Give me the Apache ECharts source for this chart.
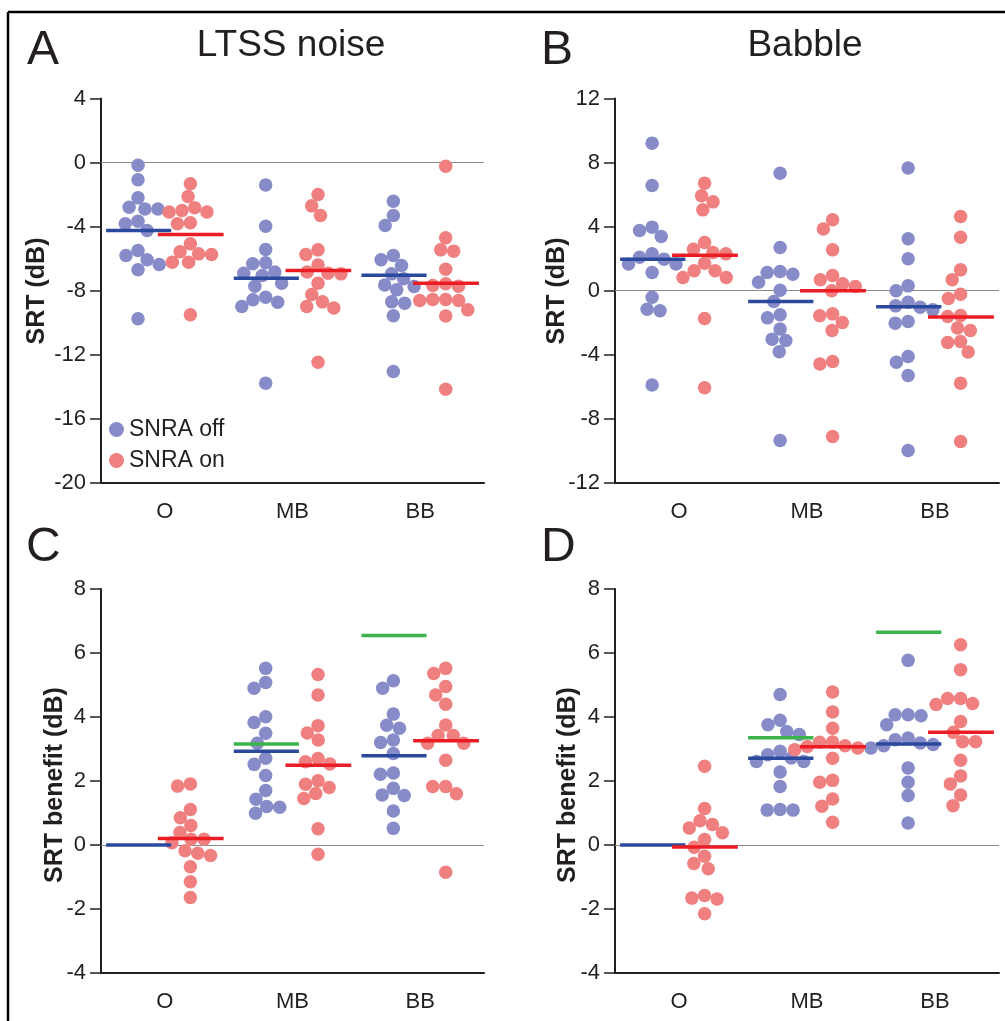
<!DOCTYPE html>
<html><head><meta charset="utf-8">
<script src="https://cdn.jsdelivr.net/npm/echarts@6/dist/echarts.min.js"></script>
<style>html,body{margin:0;padding:0;background:#fff}#c{width:1005px;height:1021px}</style>
</head><body><div id="c"></div>
<script>
// ---------- DATA ----------
const categories = ['O', 'MB', 'BB'];
const ticksA = [-20, -16, -12, -8, -4, 0, 4];
const ticksB = [-12, -8, -4, 0, 4, 8, 12];
const ticksCD = [-4, -2, 0, 2, 4, 6, 8];

// Panel A: LTSS noise, SRT (dB)
const ltssOff = [
  [-0.17,-1.08,-2.21,-2.9,-2.8,-2.9,-3.67,-3.83,-4.25,-5.5,-5.81,-6.08,-6.38,-6.7,-9.77],
  [-1.40,-3.98,-5.44,-6.33,-6.27,-6.92,-7.06,-6.85,-7.54,-7.73,-8.42,-8.73,-8.58,-9.0,-13.79],
  [-2.42,-3.31,-3.94,-5.81,-6.44,-6.08,-6.96,-7.27,-7.75,-7.65,-7.96,-8.79,-8.71,-9.58,-13.06]
];
const ltssOn = [
  [-1.33,-2.13,-3.1,-3.1,-3.0,-2.83,-3.83,-3.77,-5.08,-5.75,-5.58,-5.71,-6.23,-6.23,-9.52],
  [-2.0,-2.71,-3.31,-5.46,-5.75,-6.4,-6.92,-6.85,-6.96,-7.54,-8.25,-8.71,-9.0,-9.1,-12.48],
  [-0.23,-4.71,-5.54,-5.46,-6.67,-7.69,-7.58,-7.73,-8.63,-8.56,-8.56,-8.63,-9.21,-9.6,-14.17]
];
const ltssMeanOff = [-4.25, -7.23, -7.04];
const ltssMeanOn = [-4.5, -6.75, -7.54];

// Panel B: Babble, SRT (dB)
const babbleOff = [
  [9.21,6.56,3.96,3.75,3.38,2.08,2.29,1.96,1.65,1.65,1.13,-0.42,-1.17,-1.27,-5.90],
  [7.33,2.69,1.13,1.19,1.02,0.52,0.02,-0.69,-1.52,-1.71,-2.40,-3.13,-3.04,-3.83,-9.38],
  [7.65,3.23,1.98,0.29,-0.02,-1.21,-0.96,-0.73,-1.04,-2.04,-1.94,-4.13,-4.48,-5.31,-10.0]
];
const babbleOn = [
  [6.71,5.92,5.54,5.04,3.0,2.58,2.29,2.38,1.71,1.23,0.81,0.81,1.23,-1.75,-6.08],
  [4.42,3.85,2.54,0.94,0.25,0.42,0.67,-0.02,-1.46,-1.58,-2.0,-2.5,-4.44,-4.60,-9.13],
  [4.63,3.33,1.29,0.67,-0.5,-0.23,-1.56,-1.63,-2.35,-2.5,-3.19,-3.25,-3.85,-5.79,-9.44]
];
const babbleMeanOff = [1.96, -0.69, -1.02];
const babbleMeanOn = [2.21, -0.02, -1.65];

// Panel C: LTSS noise, SRT benefit (dB)
const ltssBenOff = [
  [],
  [5.52,5.08,4.90,4.01,3.83,3.49,3.18,2.71,2.52,2.17,1.70,1.43,1.20,1.18,0.99],
  [5.13,4.90,4.09,3.65,3.74,3.20,3.28,2.86,2.21,2.25,1.56,1.77,1.55,1.06,0.52]
];
const ltssBenOn = [
  [1.91,1.84,1.11,0.85,0.61,0.39,0.18,0.07,0.18,-0.18,-0.26,-0.33,-0.68,-1.15,-1.64],
  [5.33,4.69,3.73,3.5,3.28,2.70,2.53,2.60,1.90,2.01,1.80,1.61,1.45,0.51,-0.29],
  [5.52,5.36,4.95,4.69,4.40,3.75,3.42,3.42,3.18,3.18,2.65,1.83,1.83,1.60,-0.85]
];
const ltssBenMeanOff = [0, 2.93, 2.79];
const ltssBenMeanOn = [0.2, 2.49, 3.26];
const ltssBenExpected = [null, 3.16, 6.55];

// Panel D: Babble, SRT benefit (dB)
const babbleBenOff = [
  [],
  [4.70,3.76,3.90,3.55,3.45,2.93,2.61,2.72,2.61,2.82,2.28,1.83,1.09,1.11,1.09],
  [5.77,4.04,4.07,4.07,3.76,3.29,3.03,3.19,3.10,3.14,3.34,2.41,1.96,1.55,0.69]
];
const babbleBenOn = [
  [2.46,1.14,0.76,0.64,0.53,0.38,0.17,-0.07,-0.35,-0.58,-0.74,-1.58,-1.66,-1.69,-2.15],
  [4.78,4.16,3.65,3.03,3.22,2.98,3.08,3.10,3.21,2.71,2.02,1.96,1.44,1.21,0.71],
  [6.26,5.48,4.58,4.58,4.39,4.42,3.86,3.52,3.23,3.23,2.65,1.91,2.16,1.56,1.23]
];
const babbleBenMeanOff = [0, 2.71, 3.16];
const babbleBenMeanOn = [-0.06, 3.07, 3.52];
const babbleBenExpected = [null, 3.35, 6.65];

// ---------- LAYOUT / STYLE ----------
const FONT = "'Liberation Sans', Arial, Helvetica, sans-serif";
const INK = '#231f20';
const COL_OFF = '#878bc8', COL_ON = '#f07f80';
const LINE_OFF = '#2c4a9d', LINE_ON = '#ec1c24', LINE_EXP = '#3cb44b';
const OFF_CENTER = -0.21, ON_CENTER = 0.2;
const OFF_SPAN = [-0.46, 0.05], ON_SPAN = [-0.055, 0.46];
const DOT = 13.5, SWARM_D = 13;

const panels = [
  {grid:{left:101, top:98.5, width:383, height:384}, ticks:ticksA, step:4, off:ltssOff, on:ltssOn, mOff:ltssMeanOff, mOn:ltssMeanOn, exp:null},
  {grid:{left:615, top:98.5, width:384, height:384}, ticks:ticksB, step:4, off:babbleOff, on:babbleOn, mOff:babbleMeanOff, mOn:babbleMeanOn, exp:null},
  {grid:{left:101, top:589, width:383, height:384}, ticks:ticksCD, step:2, off:ltssBenOff, on:ltssBenOn, mOff:ltssBenMeanOff, mOn:ltssBenMeanOn, exp:ltssBenExpected},
  {grid:{left:615, top:589, width:384, height:384}, ticks:ticksCD, step:2, off:babbleBenOff, on:babbleBenOn, mOff:babbleBenMeanOff, mOn:babbleBenMeanOn, exp:babbleBenExpected}
];

const chart = echarts.init(document.getElementById('c'), null, {renderer:'canvas'});

const grids = [], xAxes = [], yAxes = [];
panels.forEach((p, i) => {
  grids.push(Object.assign({containLabel:false}, p.grid));
  xAxes.push({
    type:'category', gridIndex:i, data:categories, boundaryGap:true, position:'bottom',
    axisLine:{onZero:false, lineStyle:{color:INK, width:2}},
    axisTick:{alignWithLabel:true, length:9, lineStyle:{color:INK, width:1.5}},
    axisLabel:{color:INK, fontSize:22, fontFamily:FONT, margin:18},
    splitLine:{show:false}
  });
  xAxes.push({type:'value', gridIndex:i, min:-0.5, max:2.5, show:false, position:'top'});
  yAxes.push({
    type:'value', gridIndex:i, min:p.ticks[0], max:p.ticks[p.ticks.length-1], interval:p.step,
    axisLine:{show:true, onZero:false, lineStyle:{color:INK, width:2}},
    axisTick:{show:true, length:11, lineStyle:{color:INK, width:1.5}},
    axisLabel:{color:INK, fontSize:22, fontFamily:FONT, margin:15},
    splitLine:{show:false}
  });
});

function txt(text, x, y, size, opts) {
  return Object.assign({type:'text', x:x, y:y, silent:true, style:{text:text, fill:INK,
    font: (opts && opts.bold ? 'bold ' : '') + size + 'px ' + FONT,
    textAlign:(opts && opts.align) || 'center', textVerticalAlign:'middle'}},
    opts && opts.rot ? {rotation:Math.PI/2} : {});
}

const graphics = [
  {type:'line', silent:true, shape:{x1:8, y1:12, x2:1005, y2:12}, style:{stroke:'#000', lineWidth:2.5}},
  {type:'line', silent:true, shape:{x1:8, y1:12, x2:8, y2:1021}, style:{stroke:'#000', lineWidth:2.5}},
  txt('A', 27, 51, 48, {align:'left'}),
  txt('B', 541, 51, 48, {align:'left'}),
  txt('C', 26, 548, 48, {align:'left'}),
  txt('D', 541, 548, 48, {align:'left'}),
  txt('LTSS noise', 291, 46, 37),
  txt('Babble', 805, 46, 37),
  txt('SRT (dB)', 37, 291, 25, {bold:true, rot:true}),
  txt('SRT (dB)', 557, 291, 25, {bold:true, rot:true}),
  txt('SRT benefit (dB)', 55, 785, 25, {bold:true, rot:true}),
  txt('SRT benefit (dB)', 568, 785, 25, {bold:true, rot:true})
];

chart.setOption({
  animation:false,
  backgroundColor:'#fff',
  grid:grids, xAxis:xAxes, yAxis:yAxes,
  legend:{
    data:['SNRA off', 'SNRA on'], orient:'vertical', left:104, top:413,
    icon:'circle', itemWidth:15, itemHeight:15, itemGap:8,
    textStyle:{color:INK, fontSize:23, fontFamily:FONT}, selectedMode:false
  },
  graphic:graphics,
  series:[]
});

// beeswarm offsets (pixels) from pixel y positions
function swarm(ys, D) {
  const order = ys.map((_, i) => i).sort((a, b) => ys[a] - ys[b]);
  const placed = [], out = new Array(ys.length);
  for (const i of order) {
    const y = ys[i];
    const cands = [0];
    for (const q of placed) {
      const dy = Math.abs(q.y - y);
      if (dy < D) { const dx = Math.sqrt(D*D - dy*dy); cands.push(q.x + dx, q.x - dx); }
    }
    cands.sort((a, b) => Math.abs(a) - Math.abs(b) || a - b);
    let chosen = 0;
    for (const c of cands) {
      if (placed.every(q => (q.x - c) ** 2 + (q.y - y) ** 2 >= D*D - 0.01)) { chosen = c; break; }
    }
    placed.push({x:chosen, y:y});
    out[i] = chosen;
  }
  return out;
}

function meanSeries(name, data, span, color, i) {
  return {
    name:name, type:'custom', coordinateSystem:'cartesian2d', xAxisIndex:2*i+1, yAxisIndex:i, z:5, silent:true,
    data:data.map((m, k) => m === null ? null : [k, m]).filter(d => d),
    encode:{x:0, y:1},
    renderItem:function (params, api) {
      const c = api.value(0), m = api.value(1);
      const a = api.coord([c + span[0], m]), b = api.coord([c + span[1], m]);
      return {type:'line', shape:{x1:a[0], y1:a[1], x2:b[0], y2:b[1]}, style:{stroke:color, lineWidth:3.5}};
    }
  };
}

const series = [];
panels.forEach((p, i) => {
  const x0 = chart.convertToPixel({xAxisIndex:2*i+1}, 0);
  const x1 = chart.convertToPixel({xAxisIndex:2*i+1}, 1);
  const pxPerUnit = x1 - x0;
  function pts(groups, center) {
    const out = [];
    groups.forEach((vals, k) => {
      if (!vals.length) return;
      const ys = vals.map(v => chart.convertToPixel({yAxisIndex:i}, v));
      const offs = swarm(ys, SWARM_D);
      vals.forEach((v, j) => out.push([k + center + offs[j] / pxPerUnit, v]));
    });
    return out;
  }
  series.push({
    name:'SNRA off', type:'scatter', xAxisIndex:2*i+1, yAxisIndex:i, symbol:'circle', symbolSize:DOT,
    itemStyle:{color:COL_OFF, opacity:1}, data:pts(p.off, OFF_CENTER), z:3, silent:true,
    markLine:{silent:true, symbol:'none', label:{show:false}, z:1,
      lineStyle:{color:'#8a8a8a', width:1.2, type:'solid'}, data:[{yAxis:0}]}
  });
  series.push({
    name:'SNRA on', type:'scatter', xAxisIndex:2*i+1, yAxisIndex:i, symbol:'circle', symbolSize:DOT,
    itemStyle:{color:COL_ON, opacity:1}, data:pts(p.on, ON_CENTER), z:3, silent:true
  });
  series.push(meanSeries('mean off ' + i, p.mOff, OFF_SPAN, LINE_OFF, i));
  series.push(meanSeries('mean on ' + i, p.mOn, ON_SPAN, LINE_ON, i));
  if (p.exp) series.push(meanSeries('expected ' + i, p.exp, OFF_SPAN, LINE_EXP, i));
});

chart.setOption({series:series});
</script>
</body></html>
